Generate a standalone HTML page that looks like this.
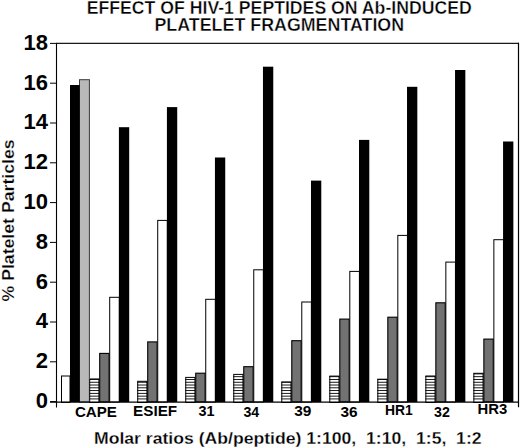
<!DOCTYPE html>
<html><head><meta charset="utf-8"><style>
html,body{margin:0;padding:0;background:#fff;}
svg{display:block;}
text{font-family:"Liberation Sans",sans-serif;font-weight:bold;fill:#000;}
</style></head><body>
<svg width="520" height="448" viewBox="0 0 520 448">
<rect width="520" height="448" fill="#fff"/>
<text transform="translate(86.69,13.90) scale(1.0100,1)" font-size="17.5" stroke="#fff" stroke-width="0.35">EFFECT OF HIV-1 PEPTIDES ON Ab-INDUCED</text>
<text transform="translate(154.48,30.80) scale(1.0202,1)" font-size="17.5" stroke="#fff" stroke-width="0.35">PLATELET FRAGMENTATION</text>
<text transform="translate(13.9,301.50) rotate(-90) scale(1.0222,1)" font-size="17.3" stroke="#fff" stroke-width="0.25">% Platelet Particles</text>
<rect x="61.5" y="376.0" width="8.5" height="26.399999999999977" fill="#fff" stroke="#000" stroke-width="1"/>
<rect x="79.5" y="79.7" width="9.9" height="322.3" fill="#b9b9b9" stroke="#3a3a3a" stroke-width="1"/>
<rect x="89.20" y="378.45" width="10.20" height="23.55" fill="#fff"/>
<rect x="89.20" y="398.47" width="10.20" height="0.9" fill="#000"/>
<rect x="89.20" y="395.69" width="10.20" height="0.9" fill="#000"/>
<rect x="89.20" y="392.91" width="10.20" height="0.9" fill="#000"/>
<rect x="89.20" y="390.13" width="10.20" height="0.9" fill="#000"/>
<rect x="89.20" y="387.35" width="10.20" height="0.9" fill="#000"/>
<rect x="89.20" y="384.57" width="10.20" height="0.9" fill="#000"/>
<rect x="89.20" y="381.79" width="10.20" height="0.9" fill="#000"/>
<rect x="89.20" y="379.01" width="10.20" height="0.9" fill="#000"/>
<rect x="89.70" y="378.95" width="9.20" height="23.55" fill="none" stroke="#000" stroke-width="1"/>
<rect x="99.70" y="353.40" width="9.4" height="48.60" fill="#727272" stroke="#000" stroke-width="1.1"/>
<rect x="109.70" y="297.30" width="9.6" height="104.70" fill="#fff" stroke="#000" stroke-width="1"/>
<rect x="137.22" y="380.80" width="10.20" height="21.20" fill="#fff"/>
<rect x="137.22" y="398.47" width="10.20" height="0.9" fill="#000"/>
<rect x="137.22" y="395.69" width="10.20" height="0.9" fill="#000"/>
<rect x="137.22" y="392.91" width="10.20" height="0.9" fill="#000"/>
<rect x="137.22" y="390.13" width="10.20" height="0.9" fill="#000"/>
<rect x="137.22" y="387.35" width="10.20" height="0.9" fill="#000"/>
<rect x="137.22" y="384.57" width="10.20" height="0.9" fill="#000"/>
<rect x="137.22" y="381.79" width="10.20" height="0.9" fill="#000"/>
<rect x="137.72" y="381.30" width="9.20" height="21.20" fill="none" stroke="#000" stroke-width="1"/>
<rect x="147.72" y="341.90" width="9.4" height="60.10" fill="#727272" stroke="#000" stroke-width="1.1"/>
<rect x="157.72" y="220.40" width="9.6" height="181.60" fill="#fff" stroke="#000" stroke-width="1"/>
<rect x="185.24" y="376.90" width="10.20" height="25.10" fill="#fff"/>
<rect x="185.24" y="398.47" width="10.20" height="0.9" fill="#000"/>
<rect x="185.24" y="395.69" width="10.20" height="0.9" fill="#000"/>
<rect x="185.24" y="392.91" width="10.20" height="0.9" fill="#000"/>
<rect x="185.24" y="390.13" width="10.20" height="0.9" fill="#000"/>
<rect x="185.24" y="387.35" width="10.20" height="0.9" fill="#000"/>
<rect x="185.24" y="384.57" width="10.20" height="0.9" fill="#000"/>
<rect x="185.24" y="381.79" width="10.20" height="0.9" fill="#000"/>
<rect x="185.24" y="379.01" width="10.20" height="0.9" fill="#000"/>
<rect x="185.74" y="377.40" width="9.20" height="25.10" fill="none" stroke="#000" stroke-width="1"/>
<rect x="195.74" y="373.20" width="9.4" height="28.80" fill="#727272" stroke="#000" stroke-width="1.1"/>
<rect x="205.74" y="299.30" width="9.6" height="102.70" fill="#fff" stroke="#000" stroke-width="1"/>
<rect x="233.26" y="373.90" width="10.20" height="28.10" fill="#fff"/>
<rect x="233.26" y="398.47" width="10.20" height="0.9" fill="#000"/>
<rect x="233.26" y="395.69" width="10.20" height="0.9" fill="#000"/>
<rect x="233.26" y="392.91" width="10.20" height="0.9" fill="#000"/>
<rect x="233.26" y="390.13" width="10.20" height="0.9" fill="#000"/>
<rect x="233.26" y="387.35" width="10.20" height="0.9" fill="#000"/>
<rect x="233.26" y="384.57" width="10.20" height="0.9" fill="#000"/>
<rect x="233.26" y="381.79" width="10.20" height="0.9" fill="#000"/>
<rect x="233.26" y="379.01" width="10.20" height="0.9" fill="#000"/>
<rect x="233.26" y="376.23" width="10.20" height="0.9" fill="#000"/>
<rect x="233.76" y="374.40" width="9.20" height="28.10" fill="none" stroke="#000" stroke-width="1"/>
<rect x="243.76" y="366.70" width="9.4" height="35.30" fill="#727272" stroke="#000" stroke-width="1.1"/>
<rect x="253.76" y="269.80" width="9.6" height="132.20" fill="#fff" stroke="#000" stroke-width="1"/>
<rect x="281.28" y="381.50" width="10.20" height="20.50" fill="#fff"/>
<rect x="281.28" y="398.47" width="10.20" height="0.9" fill="#000"/>
<rect x="281.28" y="395.69" width="10.20" height="0.9" fill="#000"/>
<rect x="281.28" y="392.91" width="10.20" height="0.9" fill="#000"/>
<rect x="281.28" y="390.13" width="10.20" height="0.9" fill="#000"/>
<rect x="281.28" y="387.35" width="10.20" height="0.9" fill="#000"/>
<rect x="281.28" y="384.57" width="10.20" height="0.9" fill="#000"/>
<rect x="281.28" y="381.79" width="10.20" height="0.9" fill="#000"/>
<rect x="281.78" y="382.00" width="9.20" height="20.50" fill="none" stroke="#000" stroke-width="1"/>
<rect x="291.78" y="340.70" width="9.4" height="61.30" fill="#727272" stroke="#000" stroke-width="1.1"/>
<rect x="301.78" y="302.00" width="9.6" height="100.00" fill="#fff" stroke="#000" stroke-width="1"/>
<rect x="329.30" y="375.60" width="10.20" height="26.40" fill="#fff"/>
<rect x="329.30" y="398.47" width="10.20" height="0.9" fill="#000"/>
<rect x="329.30" y="395.69" width="10.20" height="0.9" fill="#000"/>
<rect x="329.30" y="392.91" width="10.20" height="0.9" fill="#000"/>
<rect x="329.30" y="390.13" width="10.20" height="0.9" fill="#000"/>
<rect x="329.30" y="387.35" width="10.20" height="0.9" fill="#000"/>
<rect x="329.30" y="384.57" width="10.20" height="0.9" fill="#000"/>
<rect x="329.30" y="381.79" width="10.20" height="0.9" fill="#000"/>
<rect x="329.30" y="379.01" width="10.20" height="0.9" fill="#000"/>
<rect x="329.30" y="376.23" width="10.20" height="0.9" fill="#000"/>
<rect x="329.80" y="376.10" width="9.20" height="26.40" fill="none" stroke="#000" stroke-width="1"/>
<rect x="339.80" y="319.10" width="9.4" height="82.90" fill="#727272" stroke="#000" stroke-width="1.1"/>
<rect x="349.80" y="271.40" width="9.6" height="130.60" fill="#fff" stroke="#000" stroke-width="1"/>
<rect x="377.32" y="378.70" width="10.20" height="23.30" fill="#fff"/>
<rect x="377.32" y="398.47" width="10.20" height="0.9" fill="#000"/>
<rect x="377.32" y="395.69" width="10.20" height="0.9" fill="#000"/>
<rect x="377.32" y="392.91" width="10.20" height="0.9" fill="#000"/>
<rect x="377.32" y="390.13" width="10.20" height="0.9" fill="#000"/>
<rect x="377.32" y="387.35" width="10.20" height="0.9" fill="#000"/>
<rect x="377.32" y="384.57" width="10.20" height="0.9" fill="#000"/>
<rect x="377.32" y="381.79" width="10.20" height="0.9" fill="#000"/>
<rect x="377.32" y="379.01" width="10.20" height="0.9" fill="#000"/>
<rect x="377.82" y="379.20" width="9.20" height="23.30" fill="none" stroke="#000" stroke-width="1"/>
<rect x="387.82" y="317.20" width="9.4" height="84.80" fill="#727272" stroke="#000" stroke-width="1.1"/>
<rect x="397.82" y="235.40" width="9.6" height="166.60" fill="#fff" stroke="#000" stroke-width="1"/>
<rect x="425.34" y="375.50" width="10.20" height="26.50" fill="#fff"/>
<rect x="425.34" y="398.47" width="10.20" height="0.9" fill="#000"/>
<rect x="425.34" y="395.69" width="10.20" height="0.9" fill="#000"/>
<rect x="425.34" y="392.91" width="10.20" height="0.9" fill="#000"/>
<rect x="425.34" y="390.13" width="10.20" height="0.9" fill="#000"/>
<rect x="425.34" y="387.35" width="10.20" height="0.9" fill="#000"/>
<rect x="425.34" y="384.57" width="10.20" height="0.9" fill="#000"/>
<rect x="425.34" y="381.79" width="10.20" height="0.9" fill="#000"/>
<rect x="425.34" y="379.01" width="10.20" height="0.9" fill="#000"/>
<rect x="425.34" y="376.23" width="10.20" height="0.9" fill="#000"/>
<rect x="425.84" y="376.00" width="9.20" height="26.50" fill="none" stroke="#000" stroke-width="1"/>
<rect x="435.84" y="302.80" width="9.4" height="99.20" fill="#727272" stroke="#000" stroke-width="1.1"/>
<rect x="445.84" y="262.10" width="9.6" height="139.90" fill="#fff" stroke="#000" stroke-width="1"/>
<rect x="473.36" y="372.80" width="10.20" height="29.20" fill="#fff"/>
<rect x="473.36" y="398.47" width="10.20" height="0.9" fill="#000"/>
<rect x="473.36" y="395.69" width="10.20" height="0.9" fill="#000"/>
<rect x="473.36" y="392.91" width="10.20" height="0.9" fill="#000"/>
<rect x="473.36" y="390.13" width="10.20" height="0.9" fill="#000"/>
<rect x="473.36" y="387.35" width="10.20" height="0.9" fill="#000"/>
<rect x="473.36" y="384.57" width="10.20" height="0.9" fill="#000"/>
<rect x="473.36" y="381.79" width="10.20" height="0.9" fill="#000"/>
<rect x="473.36" y="379.01" width="10.20" height="0.9" fill="#000"/>
<rect x="473.36" y="376.23" width="10.20" height="0.9" fill="#000"/>
<rect x="473.36" y="373.45" width="10.20" height="0.9" fill="#000"/>
<rect x="473.86" y="373.30" width="9.20" height="29.20" fill="none" stroke="#000" stroke-width="1"/>
<rect x="483.86" y="339.10" width="9.4" height="62.90" fill="#727272" stroke="#000" stroke-width="1.1"/>
<rect x="493.86" y="239.70" width="9.6" height="162.30" fill="#fff" stroke="#000" stroke-width="1"/>
<rect x="70" y="85" width="9.7" height="317.0" fill="#000"/>
<rect x="118.90" y="127.20" width="10.3" height="274.80" fill="#000"/>
<rect x="166.92" y="107.10" width="10.3" height="294.90" fill="#000"/>
<rect x="214.94" y="157.50" width="10.3" height="244.50" fill="#000"/>
<rect x="262.96" y="66.70" width="10.3" height="335.30" fill="#000"/>
<rect x="310.98" y="180.60" width="10.3" height="221.40" fill="#000"/>
<rect x="359.00" y="139.90" width="10.3" height="262.10" fill="#000"/>
<rect x="407.02" y="86.80" width="10.3" height="315.20" fill="#000"/>
<rect x="455.04" y="70.00" width="10.3" height="332.00" fill="#000"/>
<rect x="503.06" y="141.50" width="10.3" height="260.50" fill="#000"/>
<line x1="56" y1="43.3" x2="519" y2="43.3" stroke="#1a1a1a" stroke-width="1.3"/>
<line x1="518.5" y1="42.7" x2="518.5" y2="407.3" stroke="#000" stroke-width="1.2"/>
<line x1="56.5" y1="43.3" x2="56.5" y2="407.6" stroke="#000" stroke-width="1.1"/>
<line x1="50" y1="402.1" x2="519" y2="402.1" stroke="#000" stroke-width="1.4"/>
<line x1="50" y1="401.60" x2="56.5" y2="401.60" stroke="#000" stroke-width="1.0"/>
<text x="47.9" y="407.90" text-anchor="end" font-size="22">0</text>
<line x1="50" y1="361.80" x2="56.5" y2="361.80" stroke="#000" stroke-width="1.0"/>
<text x="47.9" y="368.10" text-anchor="end" font-size="22">2</text>
<line x1="50" y1="322.00" x2="56.5" y2="322.00" stroke="#000" stroke-width="1.0"/>
<text x="47.9" y="328.30" text-anchor="end" font-size="22">4</text>
<line x1="50" y1="282.20" x2="56.5" y2="282.20" stroke="#000" stroke-width="1.0"/>
<text x="47.9" y="288.50" text-anchor="end" font-size="22">6</text>
<line x1="50" y1="242.40" x2="56.5" y2="242.40" stroke="#000" stroke-width="1.0"/>
<text x="47.9" y="248.70" text-anchor="end" font-size="22">8</text>
<line x1="50" y1="202.60" x2="56.5" y2="202.60" stroke="#000" stroke-width="1.0"/>
<text x="47.9" y="208.90" text-anchor="end" font-size="22">10</text>
<line x1="50" y1="162.80" x2="56.5" y2="162.80" stroke="#000" stroke-width="1.0"/>
<text x="47.9" y="169.10" text-anchor="end" font-size="22">12</text>
<line x1="50" y1="123.00" x2="56.5" y2="123.00" stroke="#000" stroke-width="1.0"/>
<text x="47.9" y="129.30" text-anchor="end" font-size="22">14</text>
<line x1="50" y1="83.20" x2="56.5" y2="83.20" stroke="#000" stroke-width="1.0"/>
<text x="47.9" y="89.50" text-anchor="end" font-size="22">16</text>
<line x1="50" y1="43.40" x2="56.5" y2="43.40" stroke="#000" stroke-width="1.0"/>
<text x="47.9" y="49.70" text-anchor="end" font-size="22">18</text>
<text transform="translate(74.92,416.50) scale(1.0811,1)" font-size="14">CAPE</text>
<text transform="translate(133.11,416.30) scale(1.0897,1)" font-size="14">ESIEF</text>
<text transform="translate(198.57,415.80) scale(1.0286,1)" font-size="14">31</text>
<text transform="translate(243.39,416.90) scale(1.0133,1)" font-size="14">34</text>
<text transform="translate(294.30,416.30) scale(1.1000,1)" font-size="14">39</text>
<text transform="translate(340.40,416.50) scale(1.1000,1)" font-size="14">36</text>
<text transform="translate(385.01,415.40) scale(0.9889,1)" font-size="14">HR1</text>
<text transform="translate(433.99,416.70) scale(1.0143,1)" font-size="14">32</text>
<text transform="translate(477.44,414.20) scale(1.0630,1)" font-size="14">HR3</text>
<text transform="translate(93.98,443.50) scale(1.0185,1)" font-size="17.3" stroke="#fff" stroke-width="0.25">Molar ratios (Ab/peptide) 1:100,&#160; 1:10,&#160; 1:5,&#160; 1:2</text>
</svg>
</body></html>
